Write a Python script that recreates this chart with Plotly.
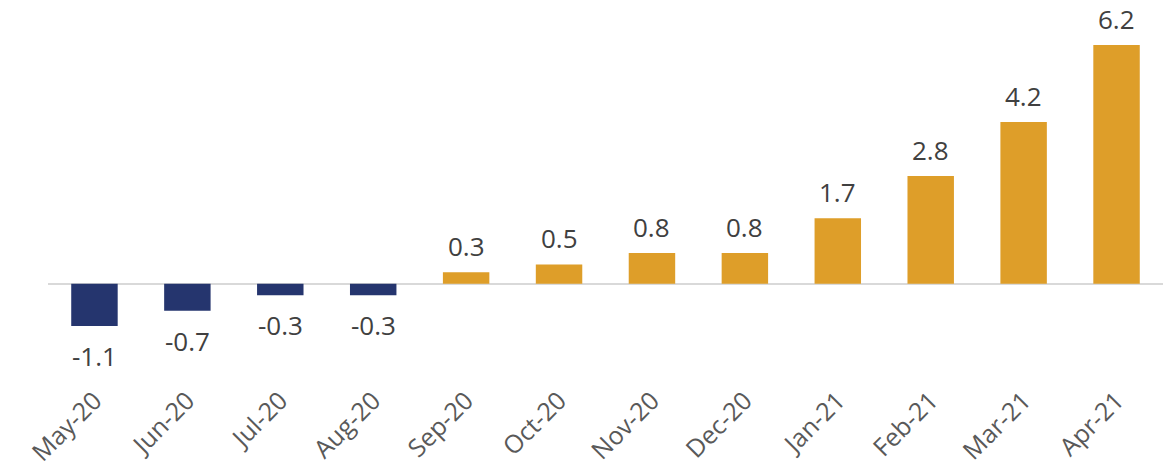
import plotly.graph_objects as go

months = ["May-20", "Jun-20", "Jul-20", "Aug-20", "Sep-20", "Oct-20",
          "Nov-20", "Dec-20", "Jan-21", "Feb-21", "Mar-21", "Apr-21"]
values = [-1.1, -0.7, -0.3, -0.3, 0.3, 0.5, 0.8, 0.8, 1.7, 2.8, 4.2, 6.2]

NEG = "#25356E"
POS = "#DE9E29"
FONT = "Open Sans"

colors = [NEG if v < 0 else POS for v in values]

fig = go.Figure()
fig.add_trace(go.Bar(x=months, y=values, marker_color=colors, width=0.5,
                     marker_line_width=0, hoverinfo="skip"))

annotations = []
for m, v in zip(months, values):
    annotations.append(dict(
        x=m, y=v, text=f"{v:.1f}", showarrow=False,
        yanchor="bottom" if v >= 0 else "top",
        yshift=6 if v >= 0 else -10,
        font=dict(family=FONT, size=26, color="#404040"),
    ))

fig.update_layout(
    width=1168, height=470,
    margin=dict(l=48, r=5, t=18, b=90),
    paper_bgcolor="white", plot_bgcolor="white",
    showlegend=False,
    bargap=0.5,
    annotations=annotations,
    xaxis=dict(tickangle=-45, tickfont=dict(family=FONT, size=25, color="#595959"),
               showgrid=False, showline=False, ticks="", zeroline=False,
               automargin=False),
    yaxis=dict(range=[-2.5, 6.9], zeroline=True, showticklabels=False,
               zerolinecolor="#D9D9D9", zerolinewidth=2, showgrid=False,
               showline=False, ticks="", automargin=False),
)

fig.write_html("out.html")
